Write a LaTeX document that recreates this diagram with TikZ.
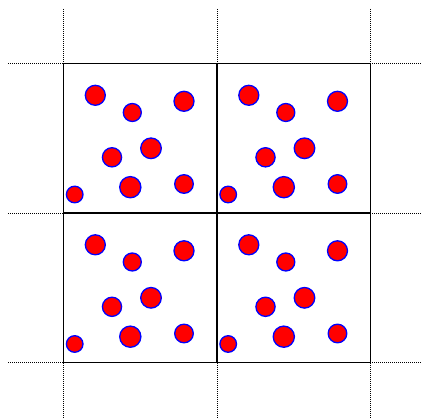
\documentclass[tikz,border=0pt]{standalone}
\begin{document}
\begin{tikzpicture}[x=1pt,y=-1pt,
  gridline/.style={line width=0.6pt,dash pattern=on 1pt off 1pt},
  cellbox/.style={draw=black,line width=1.3pt},
  particle/.style={fill=red,draw=blue,line width=1.3pt}]
\useasboundingbox (0,0) rectangle (421,419);
\foreach \x in {63.5,217,370.3} \draw[gridline] (\x,9) -- (\x,419);
\foreach \y in {63.5,213,362.7} \draw[gridline] (8,\y) -- (421,\y);
\draw[cellbox] (63.5,63.5) rectangle (370.3,362.7);
\draw[cellbox] (217,63.5) -- (217,362.7);
\draw[cellbox] (63.5,213) -- (370.3,213);
\foreach \ox/\oy in {63.5/63.5,217/63.5,63.5/213,217/213}{
  \foreach \px/\py/\r in {31.8/31.8/10, 68.8/49.0/9, 120.5/37.8/10, 48.5/93.8/9.6, 87.5/84.8/10.3, 11.2/131.0/8.3, 66.8/123.7/10.6, 120.5/120.5/9.3}{
    \draw[particle] (\ox+\px,\oy+\py) circle[radius=\r];
  }
}
\end{tikzpicture}
\end{document}
